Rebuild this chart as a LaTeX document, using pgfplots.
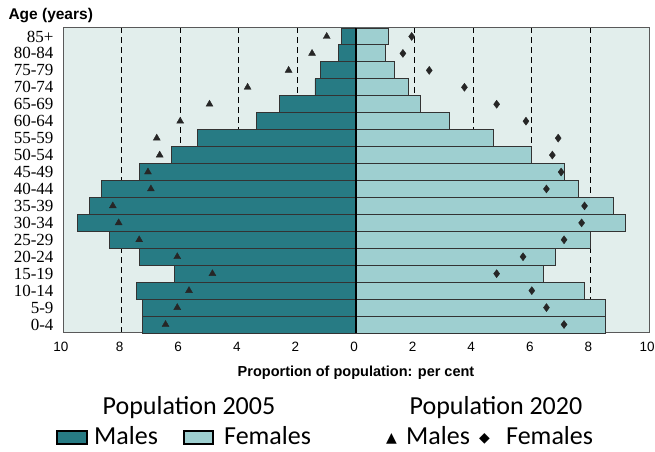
\documentclass[border=0pt]{standalone}
\usepackage{pgfplots}
\usepackage{pgfplotstable}
\pgfplotsset{compat=1.18}
\usepackage{fontspec}
\setmainfont{Liberation Serif}
\newfontfamily\sans{Liberation Sans}
\newfontfamily\leg{Carlito}
\newfontfamily\sym{DejaVu Sans}
\definecolor{male}{HTML}{277B84}
\definecolor{female}{HTML}{9ECFD0}
\definecolor{bgc}{HTML}{E2EEEC}
\definecolor{edge}{HTML}{333333}

\pgfplotstableread{
y  m05   f05  m20   f20
0  -7.3  8.5  -6.5  7.1
1  -7.3  8.5  -6.1  6.5
2  -7.5  7.8  -5.7  6.0
3  -6.2  6.4  -4.9  4.8
4  -7.4  6.8  -6.1  5.7
5  -8.4  8.0  -7.4  7.1
6  -9.5  9.2  -8.1  7.7
7  -9.1  8.8  -8.3  7.8
8  -8.7  7.6  -7.0  6.5
9  -7.4  7.1  -7.1  7.0
10 -6.3  6.0  -6.7  6.7
11 -5.4  4.7  -6.8  6.9
12 -3.4  3.2  -6.0  5.8
13 -2.6  2.2  -5.0  4.8
14 -1.4  1.8  -3.7  3.7
15 -1.2  1.3  -2.3  2.5
16 -0.6  1.0  -1.5  1.6
17 -0.5  1.1  -1.0  1.9
}\pop

\begin{document}
\begin{tikzpicture}[x=1bp,y=1bp]
\path[use as bounding box] (0,0) rectangle (655,452);
\begin{axis}[
  at={(63bp,119bp)}, anchor=south west, scale only axis,
  width=586bp, height=305bp,
  xmin=-10, xmax=10, ymin=-0.5, ymax=17.5,
  bar width=1, bar shift=0pt,
  xtick={-10,-8,...,10}, xticklabels={10,8,6,4,2,0,2,4,6,8,10},
  ytick={0,...,17},
  yticklabels={0-4,5-9,10-14,15-19,20-24,25-29,30-34,35-39,40-44,45-49,50-54,55-59,60-64,65-69,70-74,75-79,80-84,85+},
  major tick length=0pt,
  xmajorgrids,
  grid style={black, dash pattern=on 6bp off 4bp, line width=0.8bp},
  axis background/.style={fill=bgc},
  axis line style={draw=gray!70!black, line width=1bp},
  x tick label style={font=\sans\fontsize{13.5bp}{13.5bp}\selectfont, yshift=-6bp, xshift=-2bp},
  y tick label style={font=\fontsize{17bp}{17bp}\selectfont, xshift=-6bp},
  xlabel={Proportion of population: per cent},
  xlabel style={font=\sans\bfseries\fontsize{14.5bp}{14.5bp}\selectfont, yshift=-7bp},
  clip=false,
]
\addplot[xbar, fill=male, draw=edge, line width=0.9bp] table[x=m05, y=y] {\pop};
\addplot[xbar, fill=female, draw=edge, line width=0.9bp] table[x=f05, y=y] {\pop};
\draw[black, line width=1.6bp] (axis cs:0,-0.5) -- (axis cs:0,17.5);
\addplot[only marks, mark=triangle*, mark size=4bp, mark options={fill=black!85, draw=black!85}] table[x=m20, y=y] {\pop};
\addplot[only marks, mark=diamond*, mark size=4bp, mark options={fill=black!85, draw=black!85}] table[x=f20, y=y] {\pop};
\end{axis}
\node[anchor=west, font=\sans\bfseries\fontsize{15.5bp}{15.5bp}\selectfont] at (5,436) {Age (years)};
% legend
\node[font=\leg\fontsize{26bp}{26bp}\selectfont] at (189,44) {Population 2005};
\node[font=\leg\fontsize{26bp}{26bp}\selectfont] at (496,44) {Population 2020};
\draw[fill=male, draw=black, line width=1.2bp] (57,8) rectangle (87,21);
\node[anchor=base west, inner sep=0pt, font=\leg\fontsize{26bp}{26bp}\selectfont] at (94,7) {Males};
\draw[fill=female, draw=black, line width=1.2bp] (184,8) rectangle (213,21);
\node[anchor=base west, inner sep=0pt, font=\leg\fontsize{26bp}{26bp}\selectfont] at (224,7) {Females};
\node[anchor=base west, inner sep=0pt, font=\sym\fontsize{14bp}{14bp}\selectfont] at (386,9) {▲};
\node[anchor=base west, inner sep=0pt, font=\leg\fontsize{26bp}{26bp}\selectfont] at (406,7) {Males};
\node[anchor=base west, inner sep=0pt, font=\sym\fontsize{14bp}{14bp}\selectfont] at (479,9) {◆};
\node[anchor=base west, inner sep=0pt, font=\leg\fontsize{26bp}{26bp}\selectfont] at (506,7) {Females};
\end{tikzpicture}
\end{document}
